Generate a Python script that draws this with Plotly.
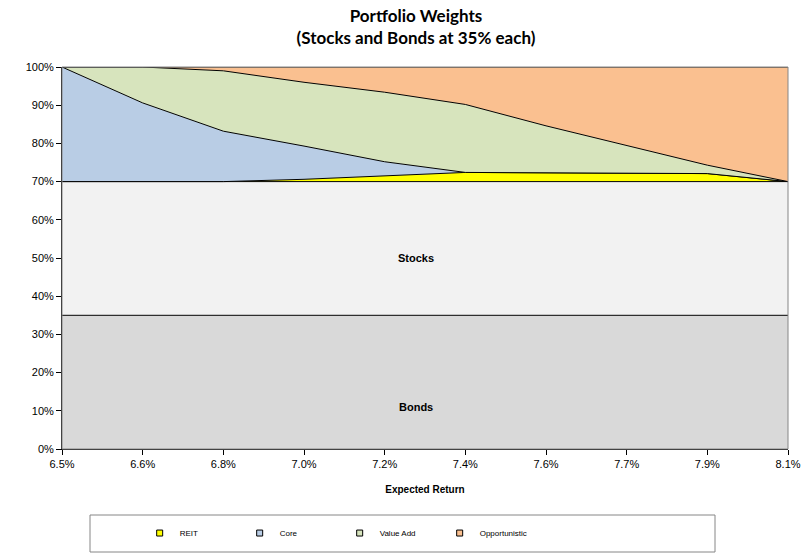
import plotly.graph_objects as go

categories = ['6.5%', '6.6%', '6.8%', '7.0%', '7.2%', '7.4%', '7.6%', '7.7%', '7.9%', '8.1%']
bonds = [35, 35, 35, 35, 35, 35, 35, 35, 35, 35]
stocks = [35, 35, 35, 35, 35, 35, 35, 35, 35, 35]
reit = [0, 0, 0, 0.6, 1.5, 2.4, 2.3, 2.2, 2.1, 0]
core = [30, 20.6, 13.2, 8.7, 3.7, 0, 0, 0, 0, 0]
value_add = [0, 9.4, 15.8, 16.7, 18.2, 17.8, 12.3, 7.2, 2.2, 0]
opportunistic = [0, 0, 1, 4, 6.6, 9.8, 15.4, 20.6, 25.7, 30]
y_ticks = [0, 10, 20, 30, 40, 50, 60, 70, 80, 90, 100]
y_tick_labels = ['0%', '10%', '20%', '30%', '40%', '50%', '60%', '70%', '80%', '90%', '100%']

series = [
    ('Bonds', bonds, '#D9D9D9', False),
    ('Stocks', stocks, '#F2F2F2', False),
    ('REIT', reit, '#FFFF00', True),
    ('Core', core, '#B9CDE5', True),
    ('Value Add', value_add, '#D7E4BD', True),
    ('Opportunistic', opportunistic, '#FAC090', True),
]

fig = go.Figure()
for name, vals, color, _ in series:
    fig.add_trace(go.Scatter(
        x=categories, y=vals, name=name, mode='lines', stackgroup='one',
        fillcolor=color, line=dict(color='black', width=1), showlegend=False,
        hoverinfo='x+y+name'))
for name, vals, color, show in series:
    if show:
        fig.add_trace(go.Scatter(
            x=[None], y=[None], name=name, mode='markers',
            marker=dict(symbol='square', size=6, color=color,
                        line=dict(color='black', width=1)),
            showlegend=True))

fig.update_layout(
    width=811, height=554,
    margin=dict(l=62, r=23, t=67, b=105, autoexpand=False),
    paper_bgcolor='white', plot_bgcolor='white',
    font=dict(family='Liberation Sans, Arial', size=11, color='black'),
    title=dict(text='<b>Portfolio Weights<br>(Stocks and Bonds at 35% each)</b>',
               font=dict(family='Lato', size=17, color='black'),
               x=416 / 811, xref='container', xanchor='center',
               y=1 - 22 / 554, yref='container', yanchor='middle'),
    xaxis=dict(type='category', range=[0, 9], showgrid=False, showline=True,
               linecolor='black', linewidth=1, ticks='outside', ticklen=5,
               tickcolor='black', tickfont=dict(size=11), automargin=False,
               title=dict(text='<b>Expected Return</b>', font=dict(size=10), standoff=16)),
    yaxis=dict(range=[0, 100], tickmode='array', tickvals=y_ticks, ticktext=y_tick_labels,
               showgrid=False, automargin=False,
               showline=True, linecolor='black', linewidth=1, ticks='outside',
               ticklen=5, tickcolor='black', tickfont=dict(size=11), zeroline=False),
    legend=dict(orientation='h', x=0.107, xanchor='left', y=-0.22, yanchor='middle',
                font=dict(size=8, family='Liberation Sans, Arial', color='black'),
                entrywidth=55, entrywidthmode='pixels', bgcolor='rgba(0,0,0,0)',
                itemwidth=30, traceorder='normal'),
    shapes=[
        dict(type='rect', xref='paper', yref='paper', x0=0, x1=1, y0=0, y1=1,
             line=dict(color='#868686', width=1), layer='above'),
        dict(type='rect', xref='paper', yref='paper',
             x0=(90 - 62) / 726, x1=(715 - 62) / 726,
             y0=(449 - 552) / 382, y1=(449 - 515) / 382,
             line=dict(color='#868686', width=1)),
    ],
    annotations=[
        dict(text='<b>Stocks</b>', x=(416 - 62) / 726, xref='paper', y=50, yref='y',
             showarrow=False, font=dict(size=11)),
        dict(text='<b>Bonds</b>', x=(416 - 62) / 726, xref='paper', y=11, yref='y',
             showarrow=False, font=dict(size=11)),
    ],
)

fig.write_html('out.html')
